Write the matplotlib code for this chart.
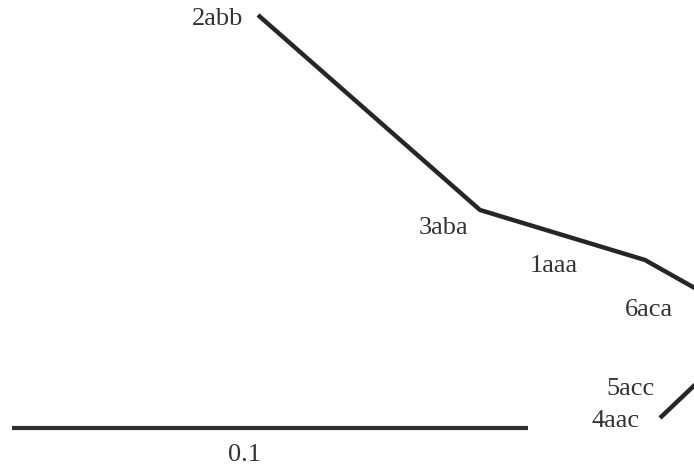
import matplotlib.pyplot as plt

# tree branches (picture coordinates, y grows downwards)
branch_x = [258, 480, 645, 700]
branch_y = [15, 210, 260, 291]
stub_x = [660, 700]
stub_y = [418, 380]

# scale bar
bar_x = [12, 528]
bar_y = [428, 428]
bar_label = "0.1"

# leaf labels and where they sit
labels = ["2abb", "3aba", "1aaa", "6aca", "5acc", "4aac"]
label_x = [218, 444, 554, 649, 631, 616]
label_y = [19, 228, 266, 310, 389, 421]

plt.rcParams['font.family'] = ['Liberation Serif', 'DejaVu Serif']

fig = plt.figure(figsize=(6.94, 4.66), dpi=100)
ax = fig.add_axes([0, 0, 1, 1])
ax.set_xlim(0, 694)
ax.set_ylim(466, 0)
ax.axis('off')

ax.plot(branch_x, branch_y, color='#262626', lw=3.2, solid_capstyle='butt', solid_joinstyle='round')
ax.plot(stub_x, stub_y, color='#262626', lw=3.2, solid_capstyle='butt')
ax.plot(bar_x, bar_y, color='#303030', lw=3.0, solid_capstyle='butt')

for t, x, y in zip(labels, label_x, label_y):
    ax.text(x, y, t, ha='center', va='center', fontsize=19, color='#333333')

ax.text((bar_x[0] + bar_x[1]) / 2 - 25, 455, bar_label, ha='center', va='center', fontsize=19, color='#333333')

plt.savefig('out.png', dpi=100)
